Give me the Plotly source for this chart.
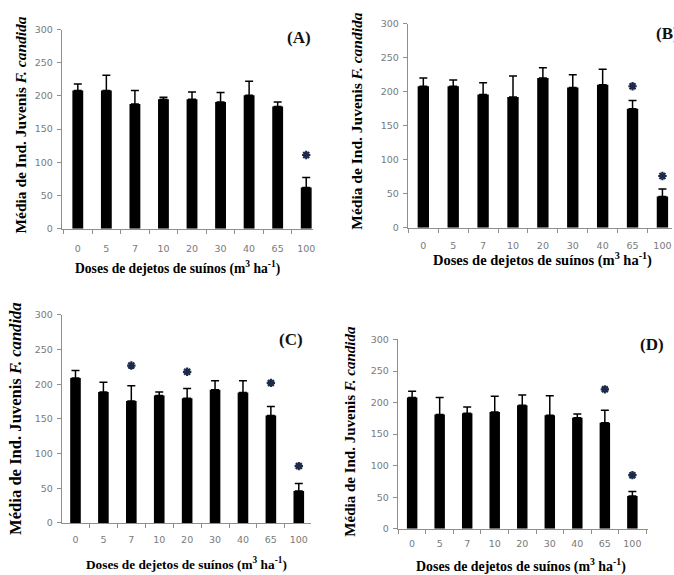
import plotly.graph_objects as go

W, H = 674, 575

doses = ["0", "5", "7", "10", "20", "30", "40", "65", "100"]

mean_A = [208, 208, 188, 195, 195, 191, 201, 184, 62]
err_A = [10, 23, 20, 3, 11, 14, 21, 7, 15]
mean_B = [208, 208, 196, 192, 220, 206, 210, 175, 46]
err_B = [12, 9, 17, 31, 15, 19, 23, 12, 11]
mean_C = [209, 189, 176, 184, 180, 192, 188, 155, 46]
err_C = [11, 14, 22, 5, 14, 13, 17, 13, 11]
mean_D = [208, 181, 183, 185, 196, 180, 176, 168, 52]
err_D = [10, 27, 10, 25, 16, 31, 6, 20, 7]

# significance markers (dose, height)
sig_A = (["100"], [111])
sig_B = (["65", "100"], [208, 76])
sig_C = (["7", "20", "65", "100"], [227, 218, 202, 82])
sig_D = (["65", "100"], [221, 85])

ytitle = "Média de Ind. Juvenis <i>F. candida</i>"
xtitle = "Doses de dejetos de suínos (m<sup>3</sup> ha<sup>-1</sup>)"

# panel geometry in pixels: x0, x1, ytop, ybottom, category range
panels = [
    dict(m=mean_A, e=err_A, s=sig_A, x0=62, x1=314, yt=24, yb=227, rng=[-0.56, 8.24], so=11,
         yt_x=21, yt_y=121, yt_fs=15.5, xt_x=178, xt_y=267, xt_fs=13.6,
         lab="(A)", lab_x=300, lab_y=32, lab_anchor="center"),
    dict(m=mean_B, e=err_B, s=sig_B, x0=409, x1=674, yt=18, yb=226, rng=[-0.52, 8.32], so=9,
         yt_x=358, yt_y=117, yt_fs=15.5, xt_x=544, xt_y=258, xt_fs=14.5,
         lab="(B)", lab_x=656, lab_y=28, lab_anchor="left"),
    dict(m=mean_C, e=err_C, s=sig_C, x0=62, x1=312, yt=315, yb=527, rng=[-0.49, 8.44], so=8,
         yt_x=16, yt_y=420, yt_fs=16.6, xt_x=187, xt_y=568, xt_fs=13.3,
         lab="(C)", lab_x=292, lab_y=340, lab_anchor="center"),
    dict(m=mean_D, e=err_D, s=sig_D, x0=399, x1=650, yt=340, yb=533, rng=[-0.52, 8.57], so=6,
         yt_x=351, yt_y=433, yt_fs=15, xt_x=523, xt_y=570, xt_fs=13.9,
         lab="(D)", lab_x=654, lab_y=345, lab_anchor="center"),
]

AXC = "#8f8f8f"
TICKC = "#7a7a7a"
SERIF = "Liberation Serif"
SANS = "DejaVu Sans"
STAR = "#1c2b4a"

fig = go.Figure()
annotations = []
layout = {}

for i, p in enumerate(panels, start=1):
    xa = "x" if i == 1 else f"x{i}"
    ya = "y" if i == 1 else f"y{i}"
    fig.add_trace(go.Bar(
        x=doses, y=p["m"], xaxis=xa, yaxis=ya,
        marker=dict(color="black", line=dict(width=0)),
        error_y=dict(type="data", array=p["e"], symmetric=False,
                     arrayminus=[0] * len(doses), color="black", thickness=1.5, width=4),
        width=0.38, showlegend=False,
    ))
    fig.add_trace(go.Scatter(
        x=p["s"][0], y=p["s"][1], xaxis=xa, yaxis=ya, mode="markers",
        marker=dict(symbol="asterisk-open", size=7, color=STAR,
                    line=dict(width=2.2, color=STAR)),
        showlegend=False, cliponaxis=False,
    ))
    xkey = "xaxis" if i == 1 else f"xaxis{i}"
    ykey = "yaxis" if i == 1 else f"yaxis{i}"
    layout[xkey] = dict(
        domain=[p["x0"] / W, p["x1"] / W], anchor=ya, type="category",
        range=p["rng"], showline=True, linecolor=AXC, linewidth=1,
        ticks="outside", tickson="boundaries", ticklen=4, tickcolor=AXC,
        tickfont=dict(family=SANS, size=9.5, color=TICKC), ticklabelstandoff=p["so"],
        showgrid=False, zeroline=False, fixedrange=True,
    )
    layout[ykey] = dict(
        domain=[1 - p["yb"] / H, 1 - p["yt"] / H], anchor=xa,
        range=[0, 300], dtick=50, showline=True, linecolor=AXC, linewidth=1,
        ticks="outside", ticklen=4, tickcolor=AXC,
        tickfont=dict(family=SANS, size=9.5, color=TICKC), ticklabelstandoff=2,
        showgrid=False, zeroline=False, fixedrange=True,
    )
    annotations.append(dict(
        text="<b>" + ytitle + "</b>", x=p["yt_x"] / W, y=1 - p["yt_y"] / H,
        xref="paper", yref="paper", textangle=-90, showarrow=False,
        xanchor="center", yanchor="middle",
        font=dict(family=SERIF, size=p["yt_fs"], color="black"),
    ))
    annotations.append(dict(
        text="<b>" + xtitle + "</b>", x=p["xt_x"] / W, y=1 - p["xt_y"] / H,
        xref="paper", yref="paper", showarrow=False,
        xanchor="center", yanchor="middle",
        font=dict(family=SERIF, size=p["xt_fs"], color="black"),
    ))
    annotations.append(dict(
        text="<b>" + p["lab"] + "</b>", x=p["lab_x"] / W, y=1 - p["lab_y"] / H,
        xref="paper", yref="paper", showarrow=False,
        xanchor=p["lab_anchor"], yanchor="middle",
        font=dict(family=SERIF, size=17, color="#111111"),
    ))

fig.update_layout(
    width=W, height=H, margin=dict(l=0, r=0, t=0, b=0),
    paper_bgcolor="white", plot_bgcolor="white",
    bargap=0.62, annotations=annotations, **layout,
)

fig.write_html(
    "out.html",
    config={"displayModeBar": False},
    post_script="document.body.style.margin='0';document.body.style.overflow='hidden';",
)
